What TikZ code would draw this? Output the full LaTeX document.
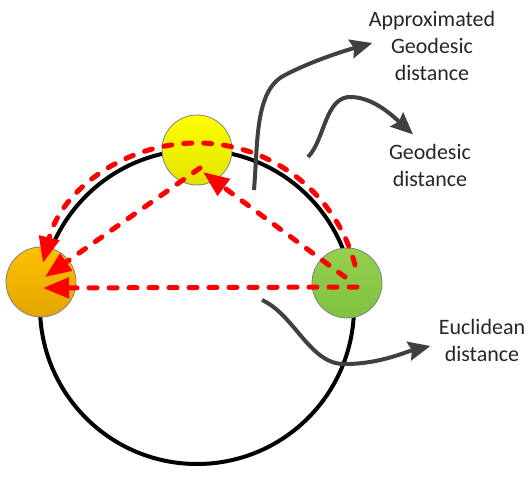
\documentclass[tikz,border=0pt]{standalone}
\usepackage{fontspec}
\setmainfont{Carlito}
\usetikzlibrary{calc, arrows.meta}

\begin{document}
\begin{tikzpicture}[x=0.5pt, y=-0.5pt]
    \definecolor{ringColour}{HTML}{000000}
    \definecolor{dashColour}{HTML}{FF0000}
    \definecolor{pointerColour}{HTML}{404040}
    \definecolor{textColour}{HTML}{262626}
    \definecolor{yellowTop}{HTML}{FFFF00}
    \definecolor{yellowBottom}{HTML}{E2E200}
    \definecolor{orangeTop}{HTML}{FFC000}
    \definecolor{orangeBottom}{HTML}{E3A400}
    \definecolor{greenTop}{HTML}{94D050}
    \definecolor{greenBottom}{HTML}{7EC23E}

    \tikzset{
        ball/.style={circle, minimum size=35pt, inner sep=0pt, draw=gray, line width=0.4pt},
        distPath/.style={dashColour, line width=2.5pt, line cap=round, dash pattern=on 4pt off 6pt,
            -{Triangle[length=13pt, width=10pt]}},
        pointer/.style={pointerColour, line width=2pt, -{Stealth[length=11pt, width=9.5pt, inset=1.5pt]}},
        textLabel/.style={inner sep=0pt, align=center, text=textColour, font=\fontsize{11}{13.5}\selectfont}
    }

    % Fix the picture size
    \useasboundingbox (0,0) rectangle (531,477);

    % Draw the manifold
    \draw[ringColour, line width=2pt] (197,307) circle[radius=78.5pt];

    % Draw the three points
    \node[ball, top color=yellowTop, bottom color=yellowBottom] (yellow) at (197,150) {};
    \node[ball, top color=orangeTop, bottom color=orangeBottom] (orange) at (41,282) {};
    \node[ball, top color=greenTop, bottom color=greenBottom] (green) at (347,283) {};

    % Define the end points of the distances
    \coordinate (arcStart) at ($(green.center)+(8,-18)$);
    \coordinate (arcTop) at (197,143);
    \coordinate (arcEnd) at ($(orange.center)+(2,-19)$);

    % Draw the distances
    \draw[distPath] (arcStart) .. controls (336,193) and (271,143) .. (arcTop)
        .. controls (125,143) and (61,190) .. (arcEnd);
    \draw[distPath] ($(green.center)+(10,4)$) -- ($(orange.center)+(2,6)$);
    \draw[distPath] ($(green.center)+(-2,-6)$) -- ($(yellow.center)+(6,22)$);
    \draw[distPath] ($(yellow.center)+(3,18)$) -- ($(orange.center)+(4,-5)$);

    % Labels
    \node[textLabel] (approxLabel) at (432,46) {Approximated\\Geodesic\\distance};
    \node[textLabel] (geoLabel) at (430,165) {Geodesic\\distance};
    \node[textLabel] (eucLabel) at (482,340) {Euclidean\\distance};

    % Pointers to the labels
    \coordinate (approxTail) at (254,190);
    \coordinate (geoTail) at (308,157);
    \coordinate (eucTail) at (262,300);

    \draw[pointer] (approxTail) .. controls (258,140) and (255,90) .. (285,75)
        .. controls (310,62) and (340,52) .. ($(approxLabel.west)+(4,-3)$);
    \draw[pointer] (geoTail) .. controls (325,140) and (325,95) .. (352,97)
        .. controls (375,98) and (395,118) .. ($(geoLabel.north)+(-17,-9)$);
    \draw[pointer] (eucTail) .. controls (295,315) and (310,365) .. (345,364)
        .. controls (380,364) and (405,352) .. ($(eucLabel.west)+(-8,6)$);
\end{tikzpicture}
\end{document}
